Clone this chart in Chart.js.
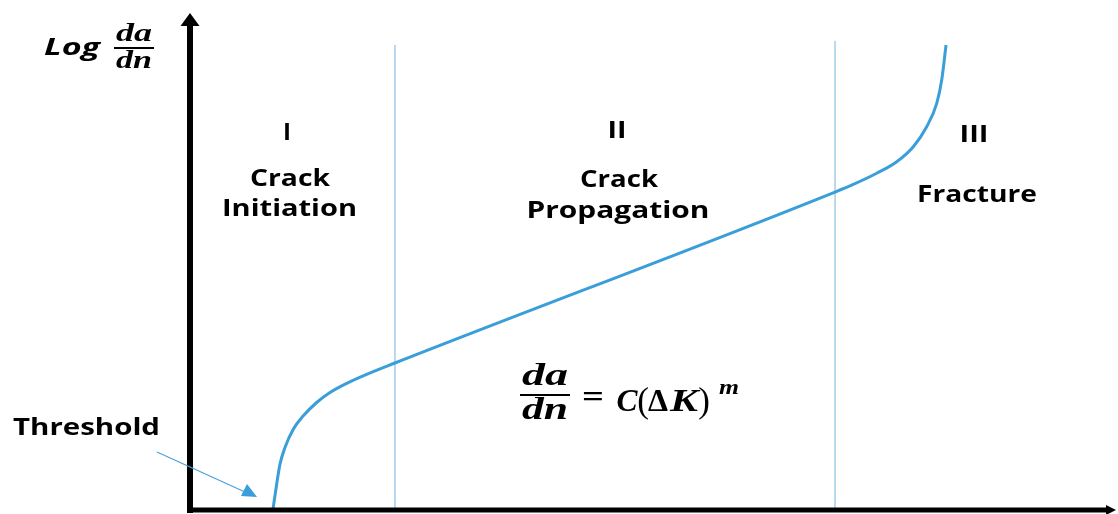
<!DOCTYPE html>
<html>
<head>
<meta charset="utf-8">
<script src="https://cdn.jsdelivr.net/npm/chart.js@4.4.1/dist/chart.umd.min.js"></script>
<style>
  html, body { margin: 0; padding: 0; background: #fff; }
  #wrap { width: 1118px; height: 514px; }
</style>
</head>
<body>
<div id="wrap"><canvas id="grafico"></canvas></div>
<script>
// Curva de crecimiento de grieta (unidades arbitrarias 0-100)
const curvaX = [8.99, 9.40, 9.76, 10.30, 11.20, 12.29, 13.74, 15.18, 17.00, 19.16, 22.23,
                69.96, 71.94, 74.48, 76.65, 78.45, 79.90, 80.99, 81.53, 82.00];
const curvaY = [0, 5.19, 9.22, 12.58, 16.26, 18.95, 21.63, 23.64, 25.49, 27.30, 29.58,
                63.98, 65.51, 67.75, 70.08, 73.10, 77.12, 81.83, 86.52, 93.56];

// Líneas verticales que separan las regiones
const limitesX = [22.23, 69.96];
const limitesTop = [93.56, 94.37];

// Etiquetas de regiones: [texto, x centro, y centro, ancho objetivo]
const etiquetas = [
  ['I', 287, 133, 8],
  ['Crack', 290, 179, 80],
  ['Initiation', 289.5, 209, 135],
  ['II', 617, 131, 19],
  ['Crack', 619, 180, 78],
  ['Propagation', 618, 211, 183],
  ['III', 974, 135, 29],
  ['Fracture', 977, 195, 120]
];

function puntos(xs, ys) {
  return xs.map((x, i) => ({ x: x, y: ys[i] }));
}

const azul = '#3a9ed8';
const datasets = [{
  data: puntos(curvaX, curvaY),
  borderColor: azul,
  borderWidth: 3,
  pointRadius: 0,
  cubicInterpolationMode: 'monotone',
  fill: false
}];

limitesX.forEach((x, i) => {
  datasets.push({
    data: [{ x: x, y: 0 }, { x: x, y: limitesTop[i] }],
    borderColor: '#a9cfeb',
    borderWidth: 1.6,
    pointRadius: 0,
    fill: false
  });
});

// Texto estirado horizontalmente hasta un ancho dado
function textoAncho(ctx, texto, cx, cy, ancho, font) {
  ctx.save();
  ctx.font = font;
  ctx.textAlign = 'center';
  ctx.textBaseline = 'middle';
  const w = ctx.measureText(texto).width;
  const sx = ancho > 0 ? ancho / w : 1;
  ctx.translate(cx, cy);
  ctx.scale(sx, 1);
  ctx.fillText(texto, 0, 0);
  ctx.restore();
}

function fraccion(ctx, cx, yArriba, yBarra, yAbajo, ancho, font) {
  textoAncho(ctx, 'da', cx, yArriba, ancho, font);
  textoAncho(ctx, 'dn', cx, yAbajo, ancho, font);
  ctx.fillRect(cx - ancho / 2 - 2, yBarra - 1, ancho + 4, 2);
}

const decoracion = {
  id: 'decoracion',
  afterDraw(chart) {
    const ctx = chart.ctx;
    const a = chart.chartArea;
    ctx.save();
    ctx.fillStyle = '#000';
    ctx.strokeStyle = '#000';
    ctx.lineWidth = 6;
    // eje Y
    ctx.beginPath();
    ctx.moveTo(a.left, a.bottom + 3);
    ctx.lineTo(a.left, a.top + 10);
    ctx.stroke();
    ctx.beginPath();
    ctx.moveTo(a.left, a.top);
    ctx.lineTo(a.left - 9.5, a.top + 13);
    ctx.lineTo(a.left + 9.5, a.top + 13);
    ctx.closePath();
    ctx.fill();
    // eje X
    ctx.lineWidth = 5;
    ctx.beginPath();
    ctx.moveTo(a.left - 3, a.bottom);
    ctx.lineTo(a.right - 4, a.bottom);
    ctx.stroke();
    ctx.beginPath();
    ctx.moveTo(a.right + 4, a.bottom);
    ctx.lineTo(a.right - 6, a.bottom - 5);
    ctx.lineTo(a.right - 6, a.bottom + 5);
    ctx.closePath();
    ctx.fill();

    // etiquetas de regiones
    etiquetas.forEach(e => {
      textoAncho(ctx, e[0], e[1], e[2], e[3], 'bold 23px "Open Sans"');
    });
    textoAncho(ctx, 'Threshold', 86.5, 428, 147, 'bold 23px "Open Sans"');

    // título eje Y
    textoAncho(ctx, 'Log', 72, 48, 56, 'italic bold 24px "Open Sans"');
    fraccion(ctx, 134, 35, 48, 62, 36, 'italic bold 25px "Liberation Serif"');

    // ecuación
    const fi = 'italic bold 32px "Liberation Serif"';
    const fr = 'bold 32px "Liberation Serif"';
    const fp = '35px "Liberation Serif"';
    fraccion(ctx, 545, 377, 395, 411, 46, 'italic bold 31px "Liberation Serif"');
    textoAncho(ctx, '=', 593, 399, 22, fr);
    textoAncho(ctx, 'C', 627, 403, 21, fi);
    textoAncho(ctx, '(', 643, 403, 0, fp);
    textoAncho(ctx, 'Δ', 658, 403, 20, fr);
    textoAncho(ctx, 'K', 684, 403, 28, fi);
    textoAncho(ctx, ')', 704, 403, 0, fp);
    textoAncho(ctx, 'm', 729, 389, 20, 'italic bold 21px "Liberation Serif"');

    // flecha del umbral
    ctx.strokeStyle = '#4aa3dc';
    ctx.fillStyle = azul;
    ctx.lineWidth = 1.3;
    ctx.beginPath();
    ctx.moveTo(157, 452);
    ctx.lineTo(245, 492);
    ctx.stroke();
    ctx.beginPath();
    ctx.moveTo(257, 497);
    ctx.lineTo(241, 496);
    ctx.lineTo(247, 484);
    ctx.closePath();
    ctx.fill();
    ctx.restore();
  }
};

new Chart(document.getElementById('grafico').getContext('2d'), {
  type: 'line',
  data: { datasets: datasets },
  options: {
    responsive: true,
    maintainAspectRatio: false,
    animation: false,
    layout: { padding: { left: 190, right: 6, top: 13, bottom: 4 } },
    plugins: { legend: { display: false }, tooltip: { enabled: false } },
    scales: {
      x: { type: 'linear', min: 0, max: 100, display: false },
      y: { type: 'linear', min: 0, max: 100, display: false }
    }
  },
  plugins: [decoracion]
});
</script>
</body>
</html>
